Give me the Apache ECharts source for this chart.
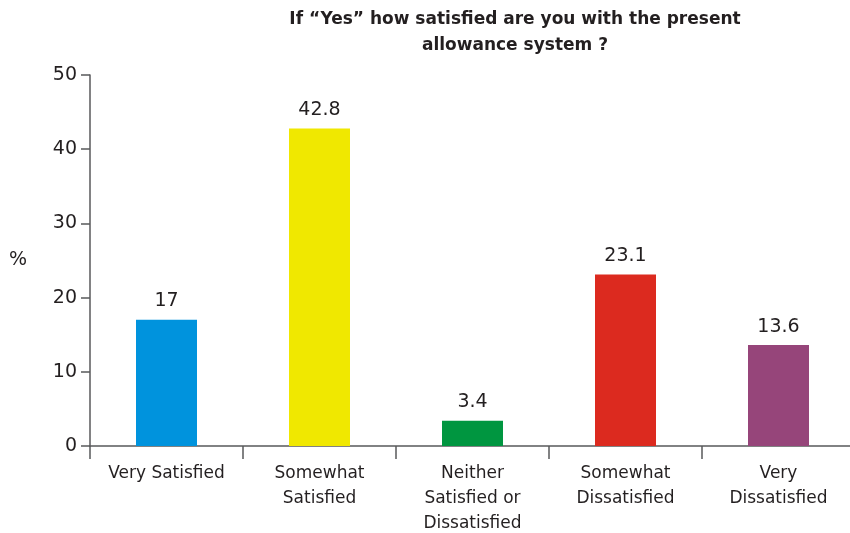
<!DOCTYPE html>
<html>
<head>
<meta charset="utf-8">
<script src="https://cdn.jsdelivr.net/npm/echarts@6/dist/echarts.min.js"></script>
<style>
  html, body { margin: 0; padding: 0; background: #ffffff; }
  #chart { width: 850px; height: 533px; }
</style>
</head>
<body>
<div id="chart"></div>
<script>
// Survey responses (percent of respondents)
const categories = [
  'Very Satisfied',
  'Somewhat\nSatisfied',
  'Neither\nSatisfied or\nDissatisfied',
  'Somewhat\nDissatisfied',
  'Very\nDissatisfied'
];
const values = [17, 42.8, 3.4, 23.1, 13.6];
const barColors = ['#0093dd', '#f0e800', '#009640', '#dc2a1f', '#96457a'];
const yTicks = { min: 0, max: 50, interval: 10 };

const textColor = '#231f20';
const axisColor = '#58595b';
const font = 'DejaVu Sans';

const chart = echarts.init(document.getElementById('chart'));
chart.setOption({
  animation: false,
  backgroundColor: '#ffffff',
  title: {
    text: 'If \u201cYes\u201d how satisfied are you with the present\nallowance system ?',
    left: 510,
    top: 2,
    textAlign: 'center',
    textStyle: {
      fontFamily: font,
      fontWeight: 'bold',
      fontSize: 17,
      lineHeight: 26,
      color: textColor
    }
  },
  grid: { left: 90, right: -5, top: 75, bottom: 87, outerBoundsMode: 'none', containLabel: false },
  xAxis: {
    type: 'category',
    data: categories,
    axisLine: { lineStyle: { color: axisColor, width: 1.5 } },
    axisTick: { show: true, length: 13, lineStyle: { color: axisColor, width: 1.5 } },
    axisLabel: {
      interval: 0,
      margin: 15,
      fontFamily: font,
      fontSize: 17,
      lineHeight: 25,
      color: textColor
    }
  },
  yAxis: {
    type: 'value',
    min: yTicks.min,
    max: yTicks.max,
    interval: yTicks.interval,
    name: '%',
    nameLocation: 'middle',
    nameRotate: 0,
    nameGap: 63,
    nameTextStyle: { fontFamily: font, fontSize: 19, color: textColor },
    splitLine: { show: false },
    axisLine: { show: true, lineStyle: { color: axisColor, width: 1.5 } },
    axisTick: { show: true, length: 9, lineStyle: { color: axisColor, width: 1.5 } },
    axisLabel: {
      margin: 13,
      fontFamily: font,
      fontSize: 19,
      color: textColor
    }
  },
  series: [{
    type: 'bar',
    barWidth: 61,
    data: values.map((v, i) => ({ value: v, itemStyle: { color: barColors[i] } })),
    label: {
      show: true,
      position: 'top',
      distance: 9,
      fontFamily: font,
      fontSize: 19,
      color: textColor
    }
  }]
});
</script>
</body>
</html>
